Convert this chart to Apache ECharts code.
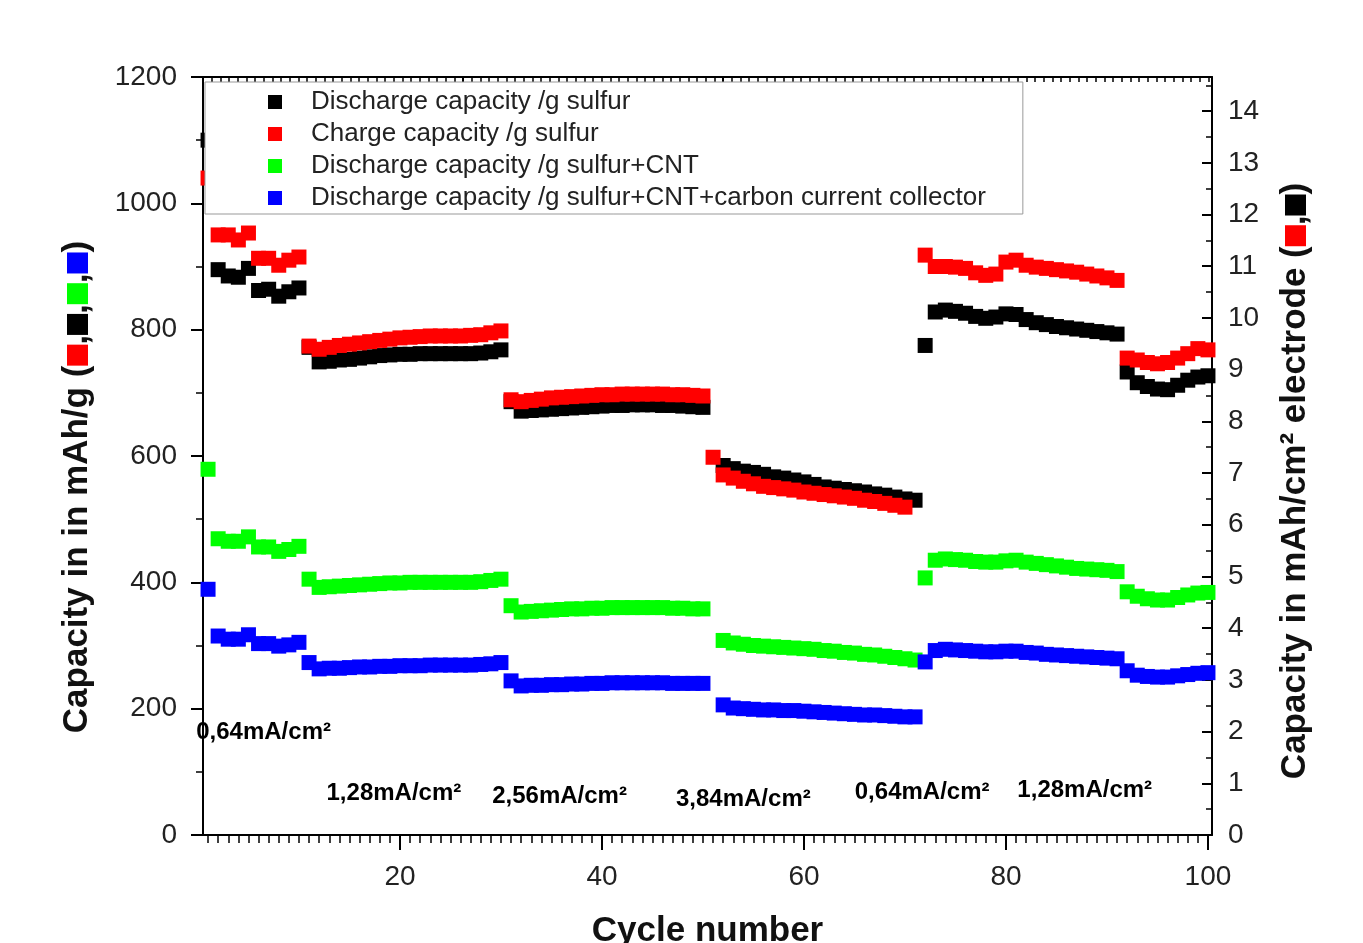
<!DOCTYPE html>
<html>
<head>
<meta charset="utf-8">
<script src="https://cdn.jsdelivr.net/npm/echarts@6/dist/echarts.min.js"></script>
<style>html,body{margin:0;padding:0;background:#fff}#c{width:1363px;height:943px}</style>
</head>
<body>
<div id="c"></div>
<script>
const cycles = [1,2,3,4,5,6,7,8,9,10,11,12,13,14,15,16,17,18,19,20,21,22,23,24,25,26,27,28,29,30,31,32,33,34,35,36,37,38,39,40,41,42,43,44,45,46,47,48,49,50,51,52,53,54,55,56,57,58,59,60,61,62,63,64,65,66,67,68,69,70,71,72,73,74,75,76,77,78,79,80,81,82,83,84,85,86,87,88,89,90,91,92,93,94,95,96,97,98,99,100];

const dischargeS = [
1100, 895, 885, 883, 897, 862, 864, 853, 860, 866,
772, 749, 750, 752, 753, 755, 757, 759, 760, 761,
761, 762, 762, 762, 762, 762, 762, 763, 765, 768,
686, 671, 672, 673, 674, 675, 676, 677, 678, 679,
680, 680, 681, 681, 681, 680, 680, 679, 678, 677,
null, 585, 580, 576, 574, 571, 567, 565, 562, 559,
555, 551, 549, 547, 545, 543, 540, 538, 535, 532,
530, 775, 828, 831, 829, 826, 821, 818, 820, 825,
824, 816, 811, 808, 805, 803, 801, 799, 797, 795,
793, 733, 716, 710, 706, 705, 712, 720, 725, 727];

const chargeS = [
1040, 950, 950, 942, 953, 913, 913, 902, 910, 915,
774, 769, 772, 775, 777, 779, 781, 783, 785, 787,
788, 789, 790, 790, 790, 790, 791, 792, 795, 798,
689, 686, 688, 690, 692, 693, 694, 695, 696, 697,
697, 698, 698, 698, 698, 698, 697, 697, 696, 695,
598, 570, 565, 560, 556, 552, 550, 548, 546, 543,
541, 539, 537, 535, 533, 530, 528, 525, 522, 519,
null, 918, 900, 900, 899, 897, 890, 886, 888, 907,
910, 902, 899, 897, 895, 893, 891, 888, 885, 882,
878, 755, 752, 748, 746, 748, 755, 762, 770, 768];

const dischargeSCNT = [
579, 469, 465, 465, 472, 456, 456, 449, 452, 457,
405, 392, 393, 394, 395, 396, 397, 398, 399, 399,
400, 400, 400, 400, 400, 400, 400, 401, 403, 405,
363, 353, 354, 355, 356, 357, 358, 358, 359, 359,
360, 360, 360, 360, 360, 360, 359, 359, 358, 358,
null, 308, 304, 302, 300, 299, 298, 297, 296, 295,
294, 292, 291, 289, 288, 286, 285, 283, 281, 279,
277, 407, 435, 437, 436, 435, 433, 432, 432, 434,
435, 432, 430, 428, 426, 424, 422, 421, 420, 419,
417, 385, 378, 374, 372, 372, 376, 380, 383, 384];

const dischargeSCNTCC = [
389, 315, 310, 310, 317, 303, 303, 299, 301, 305,
273, 263, 264, 264, 265, 266, 266, 267, 267, 268,
268, 268, 269, 269, 269, 269, 269, 270, 271, 273,
244, 236, 237, 237, 238, 238, 239, 239, 240, 240,
241, 241, 241, 241, 241, 241, 240, 240, 240, 240,
null, 206, 201, 200, 199, 198, 198, 197, 197, 196,
195, 194, 193, 192, 191, 190, 190, 189, 188, 187,
187, 274, 292, 294, 293, 292, 291, 290, 290, 291,
291, 289, 288, 286, 285, 284, 283, 282, 281, 280,
279, 260, 253, 251, 250, 250, 252, 254, 256, 257];

const seriesNames = [
  'Discharge capacity /g sulfur',
  'Charge capacity /g sulfur',
  'Discharge capacity /g sulfur+CNT',
  'Discharge capacity /g sulfur+CNT+carbon current collector'
];
const seriesColors = ['#000000', '#ff0000', '#00ff00', '#0000ff'];

const xTickLabels = [20, 40, 60, 80, 100];
const leftTickLabels = [0, 200, 400, 600, 800, 1000, 1200];
const rightTickLabels = [0,1,2,3,4,5,6,7,8,9,10,11,12,13,14];

const rateLabels = ['0,64mA/cm²', '1,28mA/cm²', '2,56mA/cm²', '3,84mA/cm²', '0,64mA/cm²', '1,28mA/cm²'];
const rateLabelCycle = [6.5, 19.4, 35.8, 54.0, 71.7, 87.8];
const rateLabelValue = [162, 66, 61, 56, 68, 70];

function pairs(vals) {
  const out = [];
  cycles.forEach((c, i) => { if (vals[i] !== null) out.push([c, vals[i]]); });
  return out;
}

const FONT = "'Liberation Sans', Arial, sans-serif";
const allSeries = [dischargeS, chargeS, dischargeSCNT, dischargeSCNTCC];

const minorBottom = []; for (let i = 1; i <= 100; i++) minorBottom.push(i);
const minorTop = []; for (let i = 0; i <= 116; i++) minorTop.push(i);
const rightMinor = []; for (let i = 0; i < 15; i++) rightMinor.push(i + 0.5);

const sq = (c) => ({ backgroundColor: c, width: 21, height: 21 });
const titleRich = { r: sq('#ff0000'), k: sq('#000000'), g: sq('#00ff00'), b: sq('#0000ff') };
const plain = v => String(v);

const option = {
  animation: false,
  backgroundColor: '#ffffff',
  grid: { left: 203, right: 151, top: 77, bottom: 108, containLabel: false, outerBoundsMode: 'none' },
  legend: {
    data: seriesNames,
    orient: 'vertical',
    left: 205, top: 82,
    padding: [7, 37, 3, 63],
    itemWidth: 14, itemHeight: 14, itemGap: 6,
    icon: 'rect',
    borderColor: '#999', borderWidth: 1,
    backgroundColor: '#ffffff',
    selectedMode: false,
    textStyle: { fontFamily: FONT, fontSize: 26, lineHeight: 26, color: '#222', padding: [0, 0, 0, 24] }
  },
  xAxis: [
    {
      type: 'value', position: 'bottom', min: 0.5, max: 100.4,
      axisLine: { show: true, onZero: false, lineStyle: { color: '#000', width: 2 } },
      axisTick: { show: true, customValues: xTickLabels, length: 15, lineStyle: { color: '#000', width: 2 } },
      axisLabel: { customValues: xTickLabels, formatter: plain, margin: 28, fontFamily: FONT, fontSize: 28, color: '#222' },
      splitLine: { show: false },
      name: 'Cycle number', nameLocation: 'middle', nameGap: 79,
      nameTextStyle: { fontFamily: FONT, fontWeight: 'bold', fontSize: 35, color: '#111' }
    },
    {
      type: 'value', position: 'bottom', min: 0.5, max: 100.4,
      axisLine: { show: false, onZero: false },
      axisTick: { show: true, customValues: minorBottom, length: 8, lineStyle: { color: '#000', width: 1.5 } },
      axisLabel: { show: false }, splitLine: { show: false }
    },
    {
      type: 'value', position: 'top', min: 0, max: 116.4,
      axisLine: { show: true, onZero: false, lineStyle: { color: '#000', width: 2 } },
      axisTick: { show: true, inside: true, customValues: minorTop, length: 5, lineStyle: { color: '#000', width: 1.5 } },
      axisLabel: { show: false }, splitLine: { show: false }
    },
    {
      type: 'value', position: 'top', min: 0, max: 116.4,
      axisLine: { show: false, onZero: false },
      axisTick: { show: true, inside: true, customValues: [30, 60, 90], length: 10, lineStyle: { color: '#000', width: 2 } },
      axisLabel: { show: false }, splitLine: { show: false }
    }
  ],
  yAxis: [
    {
      type: 'value', position: 'left', min: 0, max: 1200, interval: 200,
      axisLine: { show: true, onZero: false, lineStyle: { color: '#000', width: 2 } },
      axisTick: { show: true, length: 12, lineStyle: { color: '#000', width: 2 } },
      minorTick: { show: true, splitNumber: 2, length: 7, lineStyle: { color: '#000', width: 1.5 } },
      axisLabel: { customValues: leftTickLabels, formatter: plain, margin: 26, fontFamily: FONT, fontSize: 28, color: '#222' },
      splitLine: { show: false },
      name: 'Capacity in in mAh/g ({r| },{k| },{g| },{b| })',
      nameLocation: 'middle', nameRotate: 90, nameGap: 108,
      nameTextStyle: { fontFamily: FONT, fontWeight: 'bold', fontSize: 35, color: '#111', padding: [0, 62, 0, 0], rich: titleRich }
    },
    {
      type: 'value', position: 'right', min: 0, max: 14.66,
      axisLine: { show: true, onZero: false, lineStyle: { color: '#000', width: 2 } },
      axisTick: { show: true, inside: true, customValues: rightTickLabels, length: 10, lineStyle: { color: '#000', width: 2 } },
      axisLabel: { customValues: rightTickLabels, formatter: plain, margin: 16, fontFamily: FONT, fontSize: 28, color: '#222' },
      splitLine: { show: false },
      name: 'Capacity in mAh/cm² electrode ({r| },{k| })',
      nameLocation: 'middle', nameRotate: 90, nameGap: 66,
      nameTextStyle: { fontFamily: FONT, fontWeight: 'bold', fontSize: 35, color: '#111', padding: [0, 50, 0, 0], rich: titleRich }
    },
    {
      type: 'value', position: 'right', min: 0, max: 14.66,
      axisLine: { show: false, onZero: false },
      axisTick: { show: true, inside: true, customValues: rightMinor, length: 6, lineStyle: { color: '#000', width: 1.5 } },
      axisLabel: { show: false }, splitLine: { show: false }
    }
  ],
  series: allSeries.map((vals, k) => ({
    name: seriesNames[k], type: 'scatter', xAxisIndex: 0, yAxisIndex: 0,
    symbol: 'rect', symbolSize: 15,
    itemStyle: { color: seriesColors[k], opacity: 1 },
    data: pairs(vals), z: 2 + k * 0.01
  })).concat([{
    name: 'rates', type: 'scatter', xAxisIndex: 0, yAxisIndex: 0,
    symbolSize: 0, silent: true,
    itemStyle: { opacity: 1 },
    data: rateLabels.map((t, i) => [rateLabelCycle[i], rateLabelValue[i], t]),
    label: { show: true, position: 'inside', formatter: p => p.value[2],
      fontFamily: FONT, fontWeight: 'bold', fontSize: 24, color: '#000' }
  }])
};

const chart = echarts.init(document.getElementById('c'), null, { renderer: 'canvas' });
chart.setOption(option);
</script>
</body>
</html>
